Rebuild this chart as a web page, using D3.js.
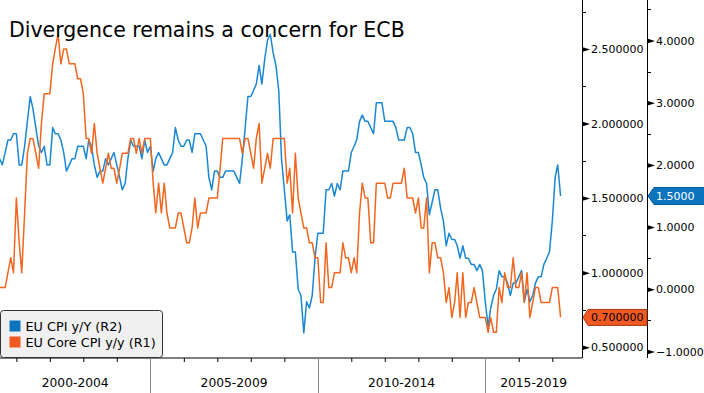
<!DOCTYPE html>
<html>
<head>
<meta charset="utf-8">
<script src="https://cdn.jsdelivr.net/npm/d3@7"></script>
<style>
  html, body { margin: 0; padding: 0; background: #fff; }
  svg { display: block; font-family: 'DejaVu Sans', sans-serif; }
</style>
</head>
<body>
<script>
'use strict'

// monthly prints, first one is Jun 2000, last one Mar 2017
const firstMonth = '2000-06'
const cpiYoY = [
  2.1, 2.0, 2.2, 2.4, 2.4, 2.5, 2.5,
  2.0, 2.0, 2.3, 2.7, 3.1, 2.9, 2.6, 2.3, 2.2, 2.3, 2.0, 2.0,
  2.6, 2.5, 2.5, 2.4, 2.2, 1.9, 2.0, 2.1, 2.1, 2.3, 2.3, 2.3,
  2.1, 2.4, 2.3, 2.0, 1.8, 1.9, 1.9, 2.1, 2.0, 2.1, 2.2, 2.0,
  1.8, 1.6, 1.7, 2.1, 2.4, 2.3, 2.3, 2.3, 2.1, 2.4, 2.2, 2.3,
  1.9, 2.1, 2.2, 2.1, 2.0, 2.0, 2.1, 2.2, 2.6, 2.4, 2.3, 2.3,
  2.4, 2.4, 2.2, 2.5, 2.5, 2.5, 2.4, 2.3, 1.8, 1.6, 1.9, 1.9,
  1.8, 1.8, 1.9, 1.9, 1.9, 1.9, 1.8, 1.7, 2.1, 2.6, 3.1, 3.1,
  3.2, 3.3, 3.6, 3.3, 3.7, 4.0, 4.1, 3.8, 3.6, 3.2, 2.1, 1.6,
  1.1, 1.2, 0.6, 0.6, 0.0, -0.1, -0.7, -0.2, -0.3, -0.1, 0.5, 0.9,
  0.9, 0.9, 1.6, 1.6, 1.7, 1.5, 1.7, 1.6, 1.9, 1.9, 1.9, 2.2,
  2.3, 2.4, 2.7, 2.8, 2.7, 2.7, 2.6, 2.5, 3.0, 3.0, 3.0, 2.7,
  2.7, 2.7, 2.7, 2.6, 2.4, 2.4, 2.4, 2.6, 2.6, 2.5, 2.2, 2.2,
  2.0, 1.8, 1.7, 1.2, 1.4, 1.6, 1.6, 1.3, 1.1, 0.7, 0.9, 0.8,
  0.8, 0.7, 0.5, 0.7, 0.5, 0.5, 0.4, 0.4, 0.3, 0.4, 0.3, -0.2,
  -0.6, -0.3, -0.1, 0.0, 0.3, 0.2, 0.2, 0.1, -0.1, 0.1, 0.1, 0.2,
  0.3, -0.2, 0.0, -0.2, -0.1, 0.1, 0.2, 0.2, 0.4, 0.5, 0.6, 1.1,
  1.8, 2.0, 1.5
]
const coreYoY = [
  0.9, 0.9, 0.9, 1.0, 1.1, 1.0, 1.5,
  1.2, 1.0, 1.4, 1.8, 1.9, 1.9, 1.8, 1.7, 2.0, 2.2, 2.2, 2.2,
  2.4, 2.5, 2.6, 2.4, 2.5, 2.5, 2.4, 2.4, 2.4, 2.3, 2.3, 2.2,
  1.9, 1.9, 1.8, 2.0, 1.8, 1.7, 1.6, 1.7, 1.8, 1.7, 1.7, 1.6,
  1.7, 1.8, 1.8, 1.8, 1.9, 1.9, 1.8, 1.9, 1.8, 1.9, 1.9, 1.9,
  1.6, 1.4, 1.6, 1.4, 1.6, 1.4, 1.3, 1.3, 1.3, 1.4, 1.4, 1.3,
  1.2, 1.2, 1.3, 1.5, 1.3, 1.4, 1.4, 1.4, 1.5, 1.5, 1.5, 1.5,
  1.7, 1.9, 1.9, 1.9, 1.9, 1.9, 1.9, 1.9, 1.8, 1.9, 1.9, 1.8,
  1.7, 1.9, 2.0, 1.6, 1.7, 1.8, 1.7, 1.9, 1.9, 1.9, 1.9, 1.9,
  1.6, 1.7, 1.4, 1.8, 1.5, 1.4, 1.3, 1.3, 1.2, 1.2, 1.1, 1.1,
  0.8, 0.8, 1.2, 0.9, 0.9, 1.0, 1.0, 1.0, 1.2, 1.1, 1.1, 1.0,
  1.1, 1.0, 1.4, 1.6, 1.5, 1.5, 1.2, 1.2, 1.6, 1.6, 1.6, 1.6,
  1.5, 1.5, 1.6, 1.6, 1.6, 1.6, 1.7, 1.5, 1.5, 1.5, 1.4, 1.5,
  1.3, 1.3, 1.5, 1.0, 1.2, 1.2, 1.1, 1.1, 1.0, 0.8, 0.9, 0.7,
  0.8, 1.0, 0.7, 1.0, 0.7, 0.8, 0.8, 0.9, 0.8, 0.7, 0.7, 0.7,
  0.6, 0.7, 0.6, 0.6, 0.9, 0.8, 1.0, 0.9, 0.9, 1.1, 0.9, 0.9,
  1.0, 0.8, 1.0, 0.7, 0.8, 0.9, 0.9, 0.8, 0.8, 0.8, 0.8, 0.9,
  0.9, 0.9, 0.7
]
const seriesNames = ['EU CPI y/Y (R2)', 'EU Core CPI y/y (R1)']
const periodLabels = ['2000-2004', '2005-2009', '2010-2014', '2015-2019']
const periodYears = [2000, 2005, 2010, 2015, 2020]
const r1Ticks = [0.5, 1.0, 1.5, 2.0, 2.5]
const r1Minor = [0.75, 1.25, 1.75, 2.25, 2.75]
const r2Ticks = [-1, 0, 1, 2, 3, 4]
const r2Minor = [-0.5, 0.5, 1.5, 2.5, 3.5, 4.5]
const title = 'Divergence remains a concern for ECB'

const width = 704
const height = 393
const plotRight = 582
const plotBottom = 358
const r2Left = 647

const blue = '#1a87d3'
const orange = '#f2661f'

const parseMonth = d3.timeParse('%Y-%m')
const start = parseMonth(firstMonth)
// a monthly print is plotted at the end of its month
const monthEnd = (i) => d3.timeMonth.offset(start, i + 1)

const x = d3.scaleTime()
  .domain([new Date(2000, 0, 1), new Date(2018, 0, 1)])
  .range([-17.2, 585.8])
const yR1 = d3.scaleLinear().domain([0.428, 2.828]).range([plotBottom, 0])
const yR2 = d3.scaleLinear().domain([-1.1045, 4.651]).range([plotBottom, 0])

const svg = d3.select('body').append('svg')
  .attr('width', width)
  .attr('height', height)

svg.append('defs').append('clipPath').attr('id', 'plot')
  .append('rect')
  .attr('x', 0).attr('y', 0)
  .attr('width', plotRight).attr('height', plotBottom)

// bottom axis
const yearTicks = d3.range(2001, 2018)
  .filter((yr) => yr % 5 !== 0)
  .map((yr) => new Date(yr, 0, 1))
const xAxis = svg.append('g').classed('xAxis', true)
  .attr('transform', `translate(0, ${plotBottom})`)
  .call(d3.axisBottom(x).tickValues(yearTicks).tickSize(4).tickFormat(''))
xAxis.select('path.domain').remove()
xAxis.selectAll('g.tick line').attr('stroke', '#000')
xAxis.append('line')
  .attr('x1', 0).attr('x2', plotRight)
  .attr('y1', 0).attr('y2', 0)
  .attr('stroke', '#000')

const periods = periodLabels.map((label, i) => {
  const x0 = Math.max(0, x(new Date(periodYears[i], 0, 1)))
  const x1 = Math.min(plotRight, x(new Date(periodYears[i + 1], 0, 1)))
  return { label, x0, x1 }
})
svg.selectAll('line.divider')
  .data(periods.slice(1))
  .enter()
  .append('line').classed('divider', true)
  .attr('x1', (d) => Math.round(d.x0) + 0.5)
  .attr('x2', (d) => Math.round(d.x0) + 0.5)
  .attr('y1', plotBottom)
  .attr('y2', height)
  .attr('stroke', '#8a8a8a')
svg.selectAll('text.period')
  .data(periods)
  .enter()
  .append('text').classed('period', true)
  .attr('x', (d) => (d.x0 + d.x1) / 2)
  .attr('y', 387)
  .attr('text-anchor', 'middle')
  .attr('font-size', 12.3)
  .attr('fill', '#000')
  .text((d) => d.label)

// right axes with arrow ticks
const drawAxis = (scale, left, ticks, minor, fmt) => {
  const g = svg.append('g').attr('transform', `translate(${left}, 0)`)
  g.call(d3.axisRight(scale).tickValues(ticks).tickFormat(fmt).tickSize(0).tickPadding(9))
    .attr('font-family', 'DejaVu Sans')
    .attr('font-size', 11)
  g.select('path.domain').remove()
  g.selectAll('g.tick text').attr('fill', '#000')
  g.selectAll('g.tick').append('path')
    .attr('d', 'M0,-2.5L8,0L0,2.5Z')
    .attr('fill', '#000')
  g.selectAll('line.minor')
    .data(minor)
    .enter()
    .append('line').classed('minor', true)
    .attr('x1', 0).attr('x2', 4)
    .attr('y1', (d) => Math.round(scale(d)) + 0.5)
    .attr('y2', (d) => Math.round(scale(d)) + 0.5)
    .attr('stroke', '#000')
  g.append('line')
    .attr('x1', 0.5).attr('x2', 0.5)
    .attr('y1', 0).attr('y2', plotBottom)
    .attr('stroke', '#000')
  return g
}
drawAxis(yR1, plotRight, r1Ticks, r1Minor, d3.format('.6f'))
drawAxis(yR2, r2Left, r2Ticks, r2Minor, d3.format('.4f'))

// series
const plot = svg.append('g').attr('clip-path', 'url(#plot)')
const series = [
  { values: cpiYoY, scale: yR2, color: blue },
  { values: coreYoY, scale: yR1, color: orange }
]
series.forEach((s) => {
  plot.append('path')
    .datum(s.values)
    .attr('fill', 'none')
    .attr('stroke', s.color)
    .attr('stroke-width', 1.5)
    .attr('stroke-linejoin', 'round')
    .attr('d', d3.line()
      .x((d, i) => x(monthEnd(i)))
      .y((d) => s.scale(d)))
})

// last value callouts
const lastCpi = cpiYoY[cpiYoY.length - 1]
const lastCore = coreYoY[coreYoY.length - 1]
const yb = yR2(lastCpi)
svg.append('path')
  .attr('d', `M${r2Left + 1},${yb} L${r2Left + 7},${yb - 8.5} L${width + 2},${yb - 8.5} L${width + 2},${yb + 8.5} L${r2Left + 7},${yb + 8.5} Z`)
  .attr('fill', '#0b74bd')
  .attr('stroke', '#075a94')
svg.append('text')
  .attr('x', r2Left + 9)
  .attr('y', yb)
  .attr('dy', '0.35em')
  .attr('font-size', 11)
  .attr('fill', '#fff')
  .text(d3.format('.4f')(lastCpi))

const yo = yR1(lastCore)
svg.append('path')
  .attr('d', `M${plotRight + 1},${yo} L${plotRight + 6},${yo - 8} L${r2Left},${yo - 8} L${r2Left},${yo + 8} L${plotRight + 6},${yo + 8} Z`)
  .attr('fill', '#f05a22')
  .attr('stroke', '#a8380f')
svg.append('text')
  .attr('x', plotRight + 9)
  .attr('y', yo)
  .attr('dy', '0.35em')
  .attr('font-size', 11)
  .attr('fill', '#000')
  .text(d3.format('.6f')(lastCore))

// legend
const legend = svg.append('g').attr('transform', 'translate(0.5, 310.5)')
legend.append('rect')
  .attr('width', 162).attr('height', 47)
  .attr('rx', 3)
  .attr('fill', '#f0f0f0')
  .attr('stroke', '#333')
const items = legend.selectAll('g.item')
  .data(seriesNames)
  .enter()
  .append('g').classed('item', true)
  .attr('transform', (d, i) => `translate(9, ${10 + i * 16})`)
items.append('rect')
  .attr('width', 11).attr('height', 11)
  .attr('fill', (d, i) => i === 0 ? '#0b74bd' : '#f05a22')
items.append('text')
  .attr('x', 16)
  .attr('y', 10.5)
  .attr('font-size', 12.8)
  .attr('fill', '#000')
  .text((d) => d)

svg.append('text')
  .attr('x', 9)
  .attr('y', 37)
  .attr('font-size', 20.5)
  .attr('fill', '#000')
  .text(title)
</script>
</body>
</html>
